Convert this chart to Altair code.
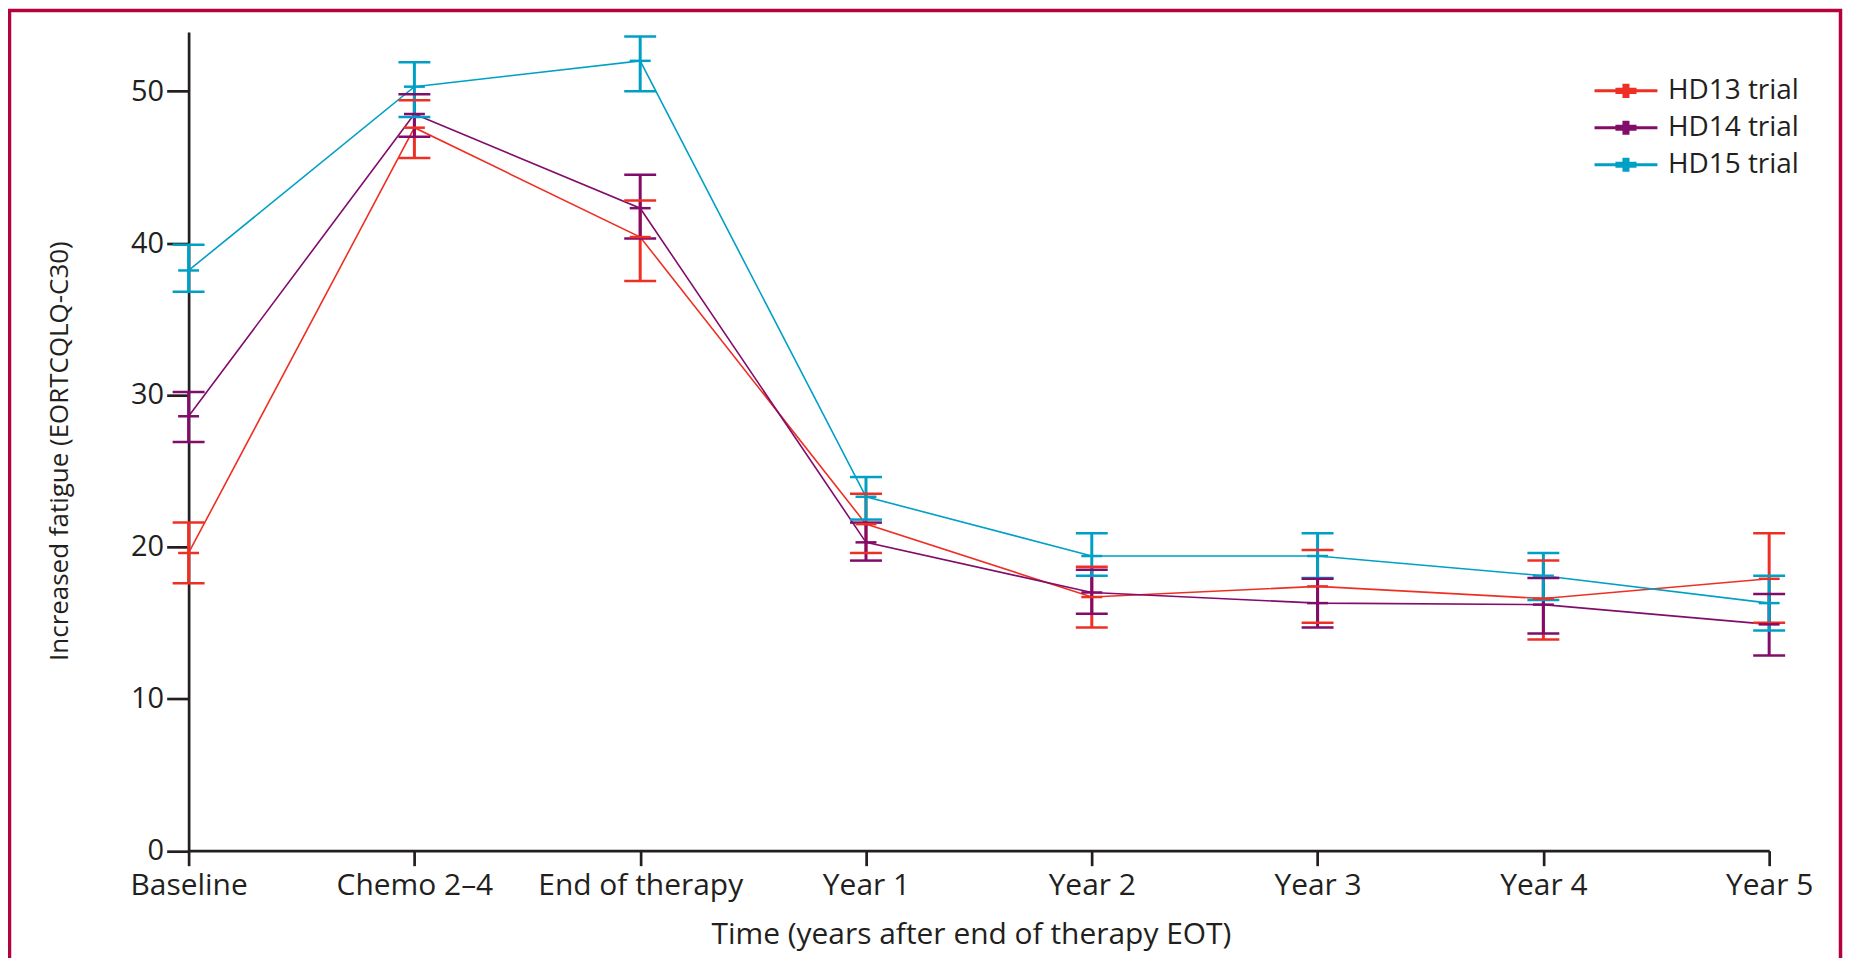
import altair as alt
import pandas as pd

# ---- data ----
times = ["Baseline", "Chemo 2–4", "End of therapy", "Year 1", "Year 2", "Year 3", "Year 4", "Year 5"]
trials = ["HD13 trial", "HD14 trial", "HD15 trial"]
colors = ["#EE3024", "#820C6A", "#00A0C6"]

hd13_mean = [19.6, 47.6, 40.4, 21.5, 16.7, 17.4, 16.6, 17.9]
hd13_low = [17.6, 45.6, 37.5, 19.6, 14.7, 15.0, 13.9, 15.0]
hd13_high = [21.6, 49.4, 42.8, 23.5, 18.7, 19.8, 19.1, 20.9]

hd14_mean = [28.6, 48.5, 42.3, 20.3, 17.0, 16.3, 16.2, 14.9]
hd14_low = [26.9, 47.0, 40.3, 19.1, 15.6, 14.7, 14.3, 12.85]
hd14_high = [30.2, 49.8, 44.5, 21.6, 18.5, 17.9, 17.95, 16.9]

hd15_mean = [38.2, 50.3, 52.0, 23.3, 19.4, 19.4, 18.1, 16.3]
hd15_low = [36.8, 48.3, 50.0, 21.8, 18.1, 17.95, 16.5, 14.5]
hd15_high = [39.9, 51.9, 53.6, 24.6, 20.9, 20.9, 19.6, 18.1]

y_ticks = [0, 10, 20, 30, 40, 50]

series = [
    (trials[0], hd13_mean, hd13_low, hd13_high),
    (trials[1], hd14_mean, hd14_low, hd14_high),
    (trials[2], hd15_mean, hd15_low, hd15_high),
]
rows = []
for name, m, lo, hi in series:
    for i, t in enumerate(times):
        rows.append({"trial": name, "time": t, "order": i, "mean": m[i], "low": lo[i], "high": hi[i]})
df = pd.DataFrame(rows)

FONT = "Open Sans"
TXT = "#231f20"

legend_path = ("M-1.97,-0.094H1.97V0.094H-1.97Z "
               "M-0.66,-0.19H0.66V0.19H-0.66Z "
               "M-0.22,-0.44H0.22V0.44H-0.22Z")

legend = alt.Legend(
    title=None, orient="none", legendX=1424.5, legendY=43,
    symbolType=legend_path, symbolSize=1024, symbolStrokeWidth=0, symbolOpacity=1,
    labelFontSize=28, labelFont=FONT, labelColor=TXT, labelOffset=26, labelLimit=400,
    rowPadding=7, padding=0,
)

cscale = alt.Scale(domain=trials, range=colors)
color = alt.Color("trial:N", scale=cscale, legend=legend)

x = alt.X(
    "time:N", sort=times,
    scale=alt.Scale(type="point", padding=0),
    axis=alt.Axis(
        title="Time (years after end of therapy EOT)",
        labelAngle=0, tickSize=15, labelPadding=5, labelFontSize=30, labelLimit=400,
        titleFontSize=30, titleFontWeight="normal", titleX=784, titleY=93,
        titleBaseline="alphabetic", titleAlign="center",
    ),
)
yscale = alt.Scale(domain=[0, 53.9], nice=False, zero=True)
yaxis = alt.Axis(
    title="Increased fatigue (EORTCQLQ-C30)", values=y_ticks,
    tickSize=22, labelPadding=3, labelFontSize=29,
    titleFontSize=26, titleFontWeight="normal", titleAngle=-90,
    titleX=-121, titleY=419.5, titleAlign="center", titleBaseline="alphabetic",
)

base = alt.Chart(df)

# invisible filled points that carry the legend (line + cross symbols); first so its legend settings win
legend_pts = base.mark_point(shape=legend_path, filled=True, size=0, opacity=1, strokeWidth=0).encode(
    x=x, y=alt.Y("mean:Q", scale=yscale, axis=yaxis), color=color
)
lines = base.mark_line(strokeWidth=1.6).encode(
    x=x, y=alt.Y("mean:Q", scale=yscale, axis=yaxis), color=color, order="order:Q"
)
bars = base.mark_rule(strokeWidth=3).encode(
    x=x, y=alt.Y("low:Q", scale=yscale, axis=yaxis), y2="high:Q", color=color
)
cap_lo = base.mark_tick(size=32, thickness=2.5, opacity=1).encode(
    x=x, y=alt.Y("low:Q", scale=yscale, axis=yaxis), color=color
)
cap_hi = base.mark_tick(size=32, thickness=2.5, opacity=1).encode(
    x=x, y=alt.Y("high:Q", scale=yscale, axis=yaxis), color=color
)
mid = base.mark_tick(size=21, thickness=2.5, opacity=1).encode(
    x=x, y=alt.Y("mean:Q", scale=yscale, axis=yaxis), color=color
)

frame = alt.Chart(pd.DataFrame({"f": [0]})).mark_rect(
    fill="transparent", stroke="#B5023B", strokeWidth=3.5
).encode(
    x=alt.value(-179.5), x2=alt.value(1655.5), y=alt.value(-21.5), y2=alt.value(1000)
)

chart = alt.layer(frame, legend_pts, lines, bars, cap_lo, cap_hi, mid).properties(
    width=1584, height=820.5,
    padding={"left": 181, "top": 23, "right": 74, "bottom": 106},
    autosize=alt.AutoSizeParams(type="none"),
    background="white",
).configure_view(
    stroke="transparent"
).configure_axis(
    grid=False, domainColor=TXT, domainWidth=2.7, tickColor=TXT, tickWidth=2.7,
    labelFont=FONT, titleFont=FONT, labelColor=TXT, titleColor=TXT,
)

chart.save("out.html", embed_options={"renderer": "svg", "actions": False})
